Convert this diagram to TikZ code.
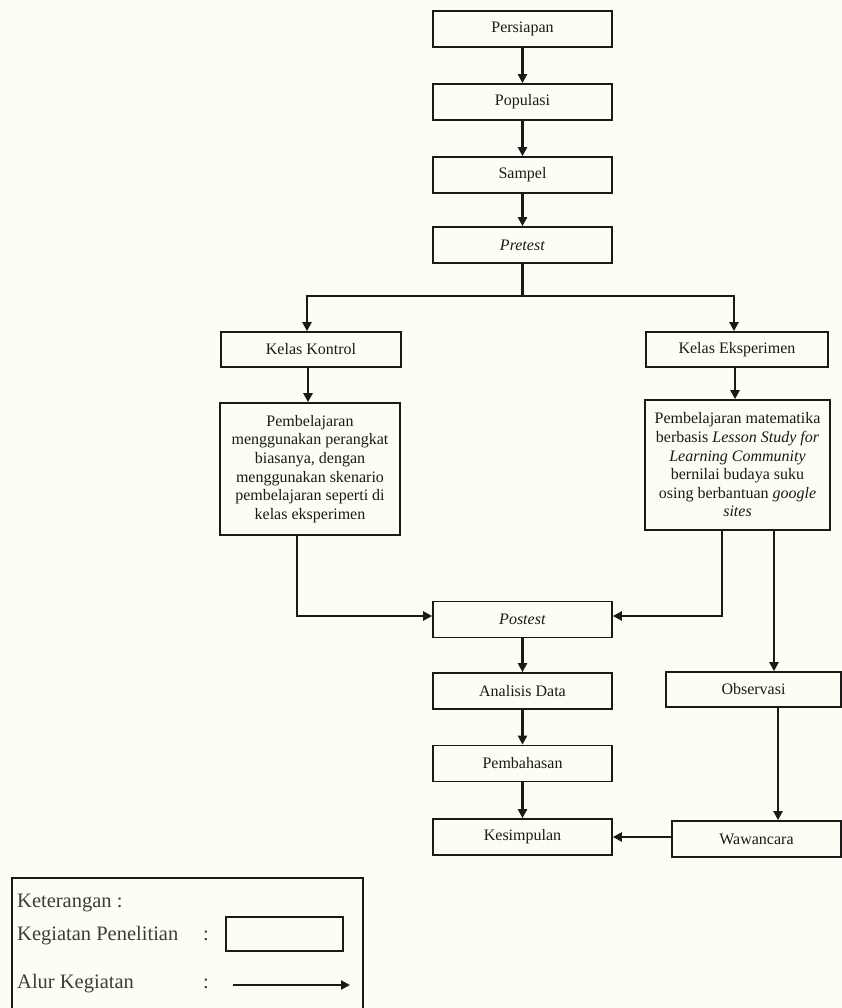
\documentclass[tikz,border=0pt]{standalone}
\usepackage{fontspec}
\setmainfont{Liberation Serif}
\usetikzlibrary{arrows.meta,calc}
\definecolor{bgcream}{HTML}{FDFDF3}
\definecolor{ink}{HTML}{1A1A1A}
\tikzset{
  box/.style={draw=ink, line width=1.7pt, rectangle, inner sep=0pt, text=ink,
    font=\fontsize{16}{18.6}\selectfont, align=center},
  arr/.style={draw=ink, line width=2.3pt, -{Triangle[length=9pt,width=9pt]}},
  lgtext/.style={anchor=base west, inner sep=0pt, text=ink!85, font=\fontsize{20.5}{24}\selectfont},
}
\begin{document}
\begin{tikzpicture}[x=1pt,y=-1pt]
\fill[bgcream] (0,0) rectangle (842,1008);
\useasboundingbox (0,0) rectangle (842,1008);

% main column
\node[box, minimum width=179pt, minimum height=36pt] (persiapan) at (522.5,29) {Persiapan};
\node[box, minimum width=179pt, minimum height=36pt] (populasi) at (522.5,102) {Populasi};
\node[box, minimum width=179pt, minimum height=36pt] (sampel) at (522.5,175) {Sampel};
\node[box, minimum width=179pt, minimum height=36pt] (pretest) at (522.5,245) {\textit{Pretest}};

% classes
\node[box, minimum width=180pt, minimum height=35pt] (kontrol) at (311,349.5) {Kelas Kontrol};
\node[box, minimum width=182pt, minimum height=35pt] (eksp) at (737,349.5) {Kelas Eksperimen};

\node[box, minimum width=180pt, minimum height=132pt] (kdesc) at (310,469) {Pembelajaran\\ menggunakan perangkat\\ biasanya, dengan\\ menggunakan skenario\\ pembelajaran seperti di\\ kelas eksperimen};
\node[box, minimum width=185pt, minimum height=130pt] (edesc) at (737.5,465) {Pembelajaran matematika\\ berbasis \textit{Lesson Study for}\\ \textit{Learning Community}\\ bernilai budaya suku\\ osing berbantuan \textit{google}\\ \textit{sites}};

% lower column
\node[box, minimum width=179pt, minimum height=36pt] (postest) at (522.5,619.5) {\textit{Postest}};
\node[box, minimum width=179pt, minimum height=36pt] (analisis) at (522.5,691) {Analisis Data};
\node[box, minimum width=179pt, minimum height=36pt] (pembahasan) at (522.5,763.5) {Pembahasan};
\node[box, minimum width=179pt, minimum height=36pt] (kesimpulan) at (522.5,837) {Kesimpulan};

\node[box, minimum width=175pt, minimum height=35pt] (observasi) at (753.5,689.5) {Observasi};
\node[box, minimum width=169pt, minimum height=36pt] (wawancara) at (756.5,839) {Wawancara};

% connectors
\draw[arr] (persiapan) -- (populasi);
\draw[arr] (populasi) -- (sampel);
\draw[arr] (sampel) -- (pretest);

\coordinate (brL) at (307,296);
\coordinate (brR) at (734,296);
\draw[arr] (pretest.south) -- (pretest.south |- brL) -- (brL) -- (brL |- kontrol.north);
\draw[arr] (pretest.south |- brR) -- (brR) -- (brR |- eksp.north);

\coordinate (kc) at (308,0);
\draw[arr] (kontrol.south -| kc) -- (kdesc.north -| kc);
\coordinate (ec) at (735,0);
\draw[arr] (eksp.south -| ec) -- (edesc.north -| ec);

\coordinate (kd) at (297,616);
\draw[arr] (kdesc.south -| kd) -- (kd) -- (postest.west |- kd);
\coordinate (ed) at (722,616);
\draw[arr] (edesc.south -| ed) -- (ed) -- (postest.east |- ed);

\coordinate (eo) at (774,0);
\draw[arr] (edesc.south -| eo) -- (observasi.north -| eo);
\coordinate (ow) at (778,0);
\draw[arr] (observasi.south -| ow) -- (wawancara.north -| ow);

\draw[arr] (postest) -- (analisis);
\draw[arr] (analisis) -- (pembahasan);
\draw[arr] (pembahasan) -- (kesimpulan);
\draw[arr] (wawancara.west |- kesimpulan.east) -- (kesimpulan.east);

% legend
\draw[draw=ink, line width=1.7pt] (12,1010) -- (12,878) -- (363,878) -- (363,1010);
\node[lgtext] (ket) at (17,907) {Keterangan :};
\node[lgtext] (kp) at (17,940) {Kegiatan Penelitian};
\node[lgtext] (kpc) at (203,940) {:};
\node[draw=ink, line width=1.7pt, minimum width=117pt, minimum height=34pt, inner sep=0pt] (lgbox) at (284.5,934) {};
\node[lgtext] (ak) at (17,988) {Alur Kegiatan};
\node[lgtext] (akc) at (203,988) {:};
\coordinate (la) at (233,985);
\coordinate (lb) at (350,985);
\draw[arr] (la) -- (lb);
\end{tikzpicture}
\end{document}
